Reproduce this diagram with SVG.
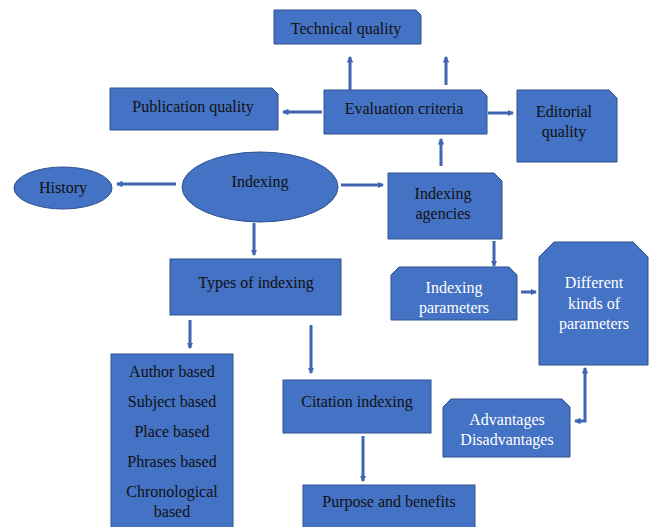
<svg xmlns="http://www.w3.org/2000/svg" width="652" height="527" viewBox="0 0 652 527">
  <style>
    .box { fill: #4472C4; stroke: #2F528F; stroke-width: 1; }
    .t { font-family: "Liberation Serif", "Times New Roman", serif; font-size: 16px; text-anchor: middle; fill: #111111; }
    .w { fill: #FFFFFF; }
    .c { fill: none; stroke: #3E66B3; stroke-width: 3; }
  </style>
  <defs>
    <marker id="ah" viewBox="0 0 6 6" refX="5" refY="3" markerWidth="2.2" markerHeight="2.2" orient="auto-start-reverse" markerUnits="strokeWidth">
      <path d="M0,0 L6,3 L0,6 z" fill="#3E66B3"/>
    </marker>
  </defs>

  <g id="connectors">
    <line class="c" x1="350" y1="90" x2="350" y2="57" marker-end="url(#ah)"/>
    <line class="c" x1="446" y1="85" x2="446" y2="57" marker-end="url(#ah)"/>
    <line class="c" x1="322" y1="112" x2="283" y2="112" marker-end="url(#ah)"/>
    <line class="c" x1="488" y1="113" x2="513" y2="113" marker-end="url(#ah)"/>
    <line class="c" x1="441" y1="166" x2="441" y2="139" marker-end="url(#ah)"/>
    <line class="c" x1="176" y1="184" x2="117" y2="184" marker-end="url(#ah)"/>
    <line class="c" x1="341" y1="185" x2="383" y2="185" marker-end="url(#ah)"/>
    <line class="c" x1="494" y1="241" x2="494" y2="266" marker-end="url(#ah)"/>
    <line class="c" x1="521" y1="292" x2="536" y2="292" marker-end="url(#ah)"/>
    <polyline class="c" points="585,368 585,421 575,421" marker-start="url(#ah)" marker-end="url(#ah)"/>
    <line class="c" x1="254" y1="223" x2="254" y2="255" marker-end="url(#ah)"/>
    <line class="c" x1="190" y1="320" x2="190" y2="348" marker-end="url(#ah)"/>
    <line class="c" x1="311" y1="325" x2="311" y2="373" marker-end="url(#ah)"/>
    <line class="c" x1="363" y1="436" x2="363" y2="481" marker-end="url(#ah)"/>
  </g>

  <g id="technical-quality">
    <path class="box" d="M274,10 H416 L421,15 V44 H274 Z"/>
    <text class="t" x="346" y="34">Technical quality</text>
  </g>

  <g id="publication-quality">
    <path class="box" d="M110,88 H272 L278,94 V130 H110 Z"/>
    <text class="t" x="193" y="112">Publication quality</text>
  </g>

  <g id="evaluation-criteria">
    <path class="box" d="M324,90 H481 L487,96 V134 H324 Z"/>
    <text class="t" x="404" y="114">Evaluation criteria</text>
  </g>

  <g id="editorial-quality">
    <path class="box" d="M517,90 H609 L617,98 V162 H517 Z"/>
    <text class="t" x="564" y="117">Editorial</text>
    <text class="t" x="564" y="137">quality</text>
  </g>

  <g id="history">
    <ellipse class="box" cx="63" cy="188" rx="49" ry="21"/>
    <text class="t" x="63" y="193">History</text>
  </g>

  <g id="indexing">
    <ellipse class="box" cx="260" cy="187" rx="78" ry="35"/>
    <text class="t" x="260" y="187">Indexing</text>
  </g>

  <g id="indexing-agencies">
    <path class="box" d="M388,173 H494 L502,181 V239 H388 Z"/>
    <text class="t" x="443" y="199">Indexing</text>
    <text class="t" x="443" y="219">agencies</text>
  </g>

  <g id="indexing-parameters">
    <path class="box" d="M399,267 H509 L517,275 V320 H391 V275 Z"/>
    <text class="t w" x="454" y="293">Indexing</text>
    <text class="t w" x="454" y="313">parameters</text>
  </g>

  <g id="different-kinds">
    <path class="box" d="M554,242 H633 L648,257 V365 H539 V257 Z"/>
    <text class="t w" x="594" y="288">Different</text>
    <text class="t w" x="594" y="309">kinds of</text>
    <text class="t w" x="594" y="329">parameters</text>
  </g>

  <g id="advantages">
    <path class="box" d="M451,399 H562 L570,407 V457 H443 V407 Z"/>
    <text class="t w" x="507" y="425">Advantages</text>
    <text class="t w" x="507" y="445">Disadvantages</text>
  </g>

  <g id="types-of-indexing">
    <rect class="box" x="170" y="259" width="171" height="56"/>
    <text class="t" x="256" y="288">Types of indexing</text>
  </g>

  <g id="type-list">
    <rect class="box" x="111" y="354" width="122" height="180"/>
    <text class="t" x="172" y="377">Author based</text>
    <text class="t" x="172" y="407">Subject based</text>
    <text class="t" x="172" y="437">Place based</text>
    <text class="t" x="172" y="467">Phrases based</text>
    <text class="t" x="172" y="497">Chronological</text>
    <text class="t" x="172" y="517">based</text>
  </g>

  <g id="citation-indexing">
    <rect class="box" x="283" y="380" width="148" height="53"/>
    <text class="t" x="357" y="407">Citation indexing</text>
  </g>

  <g id="purpose-benefits">
    <rect class="box" x="303" y="485" width="172" height="50"/>
    <text class="t" x="389" y="507">Purpose and benefits</text>
  </g>
</svg>
